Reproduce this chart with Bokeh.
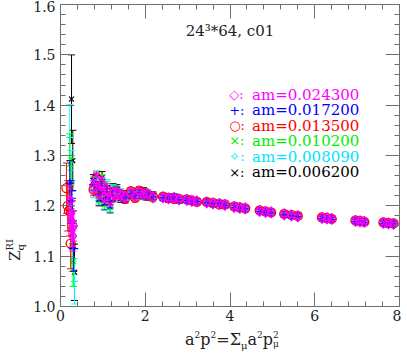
from bokeh.plotting import figure
from bokeh.models import (LinearAxis, SingleIntervalTicker, Range1d, Label,
                          ColumnDataSource, Div, CustomJSTickFormatter)
from bokeh.layouts import row, column
from bokeh.embed import file_html
from bokeh.resources import INLINE

# ---------------- data ----------------
x_dense = [0.78, 0.85, 0.91, 0.98, 1.04, 1.10, 1.17, 1.24,
           1.33, 1.42, 1.52,
           1.66, 1.76, 1.86, 1.96, 2.06, 2.18,
           2.42, 2.55, 2.68, 2.80,
           2.98, 3.10, 3.22,
           3.45, 3.60, 3.75, 3.88,
           4.10, 4.23, 4.36,
           4.70, 4.84, 4.97,
           5.28, 5.45, 5.60,
           6.17, 6.29, 6.40,
           6.96, 7.07, 7.17,
           7.62, 7.74, 7.86]
err_dense = [0.012, 0.012, 0.012, 0.012, 0.012, 0.012, 0.012, 0.012,
             0.008, 0.008, 0.008,
             0.006, 0.006, 0.006, 0.006, 0.006, 0.006,
             0.005, 0.005, 0.005, 0.005,
             0.004, 0.004, 0.004,
             0.004, 0.004, 0.004, 0.004,
             0.004, 0.004, 0.004,
             0.004, 0.004, 0.004,
             0.004, 0.004, 0.004,
             0.004, 0.004, 0.004,
             0.004, 0.004, 0.004,
             0.004, 0.004, 0.004]

labels = ["am=0.024300", "am=0.017200", "am=0.013500",
          "am=0.010200", "am=0.008090", "am=0.006200"]
symbols = ["\u25c7:", "+:", "\u25cb:", "\u00d7:", "\u2727:", "\u00d7:"]

# am = 0.024300 (magenta)
m_low_x = [0.23, 0.25, 0.26, 0.28, 0.29, 0.31]
m_low_y = [1.210, 1.185, 1.170, 1.155, 1.140, 1.160]
m_low_e = [0.030, 0.030, 0.030, 0.035, 0.030, 0.030]
m_y = [1.238, 1.252, 1.226, 1.245, 1.218, 1.232, 1.212, 1.225,
       1.226, 1.221, 1.218,
       1.226, 1.219, 1.228, 1.222, 1.224, 1.217,
       1.217, 1.215, 1.216, 1.213,
       1.212, 1.210, 1.209,
       1.207, 1.205, 1.204, 1.202,
       1.198, 1.196, 1.195,
       1.190, 1.188, 1.187,
       1.183, 1.181, 1.179,
       1.176, 1.175, 1.174,
       1.170, 1.169, 1.168,
       1.166, 1.165, 1.164]
# am = 0.017200 (blue)
b_low_x = [0.22, 0.25, 0.27, 0.28, 0.31]
b_low_y = [1.245, 1.210, 1.190, 1.165, 1.115]
b_low_e = [0.045, 0.040, 0.040, 0.050, 0.045]
b_y = [1.242, 1.248, 1.222, 1.240, 1.214, 1.228, 1.208, 1.222,
       1.229, 1.219, 1.216,
       1.224, 1.221, 1.226, 1.220, 1.222, 1.218,
       1.216, 1.214, 1.217, 1.212,
       1.211, 1.209, 1.208,
       1.206, 1.204, 1.205, 1.201,
       1.197, 1.196, 1.194,
       1.189, 1.187, 1.186,
       1.182, 1.180, 1.179,
       1.175, 1.174, 1.173,
       1.169, 1.168, 1.167,
       1.165, 1.164, 1.164]
# am = 0.013500 (red)
r_low_x = [0.14, 0.17, 0.20, 0.24]
r_low_y = [1.235, 1.200, 1.190, 1.125]
r_low_e = [0.050, 0.050, 0.050, 0.050]
r_y = [1.232, 1.255, 1.230, 1.236, 1.222, 1.226, 1.215, 1.220,
       1.224, 1.223, 1.214,
       1.229, 1.216, 1.230, 1.225, 1.220, 1.219,
       1.218, 1.216, 1.214, 1.214,
       1.213, 1.211, 1.208,
       1.208, 1.206, 1.203, 1.203,
       1.199, 1.197, 1.195,
       1.191, 1.189, 1.187,
       1.184, 1.182, 1.180,
       1.177, 1.176, 1.174,
       1.171, 1.170, 1.168,
       1.167, 1.166, 1.165]
# am = 0.010200 (green)
g_low_x = [0.22, 0.25, 0.27, 0.30]
g_low_y = [1.283, 1.245, 1.120, 1.090]
g_low_e = [0.060, 0.050, 0.050, 0.050]
g_y = [1.245, 1.240, 1.218, 1.250, 1.210, 1.236, 1.205, 1.228,
       1.231, 1.217, 1.220,
       1.222, 1.223, 1.232, 1.218, 1.226, 1.214,
       1.219, 1.213, 1.218, 1.211,
       1.214, 1.208, 1.210,
       1.209, 1.203, 1.206, 1.200,
       1.199, 1.195, 1.196,
       1.191, 1.187, 1.188,
       1.184, 1.180, 1.181,
       1.177, 1.173, 1.175,
       1.171, 1.167, 1.169,
       1.167, 1.163, 1.165]
# am = 0.008090 (cyan)
c_low_x = [0.22, 0.25, 0.30, 0.33]
c_low_y = [1.336, 1.250, 1.090, 1.050]
c_low_e = [0.065, 0.060, 0.050, 0.045]
c_y = [1.228, 1.258, 1.215, 1.242, 1.206, 1.240, 1.200, 1.230,
       1.222, 1.226, 1.213,
       1.230, 1.214, 1.224, 1.227, 1.219, 1.221,
       1.214, 1.217, 1.213, 1.215,
       1.210, 1.212, 1.207,
       1.205, 1.207, 1.202, 1.204,
       1.196, 1.198, 1.194,
       1.188, 1.190, 1.186,
       1.181, 1.183, 1.178,
       1.174, 1.177, 1.173,
       1.168, 1.171, 1.167,
       1.164, 1.167, 1.163]
# am = 0.006200 (black)
k_low_x = [0.26, 0.29, 0.31, 0.33]
k_low_y = [1.412, 1.290, 1.120, 1.068]
k_low_e = [0.088, 0.060, 0.050, 0.056]
k_y = [1.250, 1.244, 1.212, 1.256, 1.204, 1.220, 1.198, 1.232,
       1.234, 1.215, 1.222,
       1.220, 1.225, 1.221, 1.230, 1.217, 1.222,
       1.220, 1.212, 1.219, 1.210,
       1.215, 1.207, 1.211,
       1.210, 1.202, 1.207, 1.199,
       1.200, 1.194, 1.197,
       1.192, 1.186, 1.189,
       1.185, 1.179, 1.182,
       1.178, 1.172, 1.176,
       1.172, 1.166, 1.170,
       1.168, 1.162, 1.166]

# ---------------- figure ----------------
FONT = "DejaVu Serif"
AX = "#6e6e6e"
TXT = "#222222"

p = figure(width=371, height=326, output_backend="svg", toolbar_location=None,
           x_range=Range1d(0, 8), y_range=Range1d(1.0, 1.6),
           min_border_left=28, min_border_right=2, min_border_top=4, min_border_bottom=20,
           x_axis_location=None, y_axis_location=None)
p.grid.visible = False
p.outline_line_color = AX
p.background_fill_color = "white"

def style_axis(ax, labels_on):
    ax.axis_line_color = AX
    ax.major_tick_line_color = AX
    ax.minor_tick_line_color = AX
    ax.major_tick_in = 14
    ax.major_tick_out = 0
    ax.minor_tick_in = 5
    ax.minor_tick_out = 0
    ax.major_label_text_font = FONT
    ax.major_label_text_font_size = "14px"
    ax.major_label_text_color = TXT
    ax.major_label_standoff = 3 if labels_on else 0
    if not labels_on:
        ax.formatter = CustomJSTickFormatter(code="return '';")

xb = LinearAxis(ticker=SingleIntervalTicker(interval=2, num_minor_ticks=5))
xt = LinearAxis(ticker=SingleIntervalTicker(interval=2, num_minor_ticks=5))
yl = LinearAxis(ticker=SingleIntervalTicker(interval=0.1, num_minor_ticks=5))
yr = LinearAxis(ticker=SingleIntervalTicker(interval=0.1, num_minor_ticks=5))
yl.formatter = CustomJSTickFormatter(code="return tick.toFixed(1);")
style_axis(xb, True); style_axis(yl, True)
style_axis(xt, False); style_axis(yr, False)
yl.major_label_standoff = 5
p.add_layout(xb, "below")
p.add_layout(yl, "left")
p.add_layout(xt, "above")
p.add_layout(yr, "right")

series = [
    (k_low_x, k_low_y, k_low_e, k_y, "black", "x", 7),
    (c_low_x, c_low_y, c_low_e, c_y, "#00ffff", "cross", 7),
    (g_low_x, g_low_y, g_low_e, g_y, "#00ff00", "x", 8),
    (r_low_x, r_low_y, r_low_e, r_y, "#ff0000", "circle", 9),
    (b_low_x, b_low_y, b_low_e, b_y, "#0000ff", "cross", 9),
    (m_low_x, m_low_y, m_low_e, m_y, "#ff00ff", "diamond", 11),
]

for lx, ly, le, dy, col, mk, sz in series:
    xs = lx + x_dense
    ys = ly + dy
    es = le + err_dense
    src = ColumnDataSource(dict(x=xs, y=ys,
                                lo=[a - b for a, b in zip(ys, es)],
                                hi=[a + b for a, b in zip(ys, es)]))
    p.segment(x0="x", y0="lo", x1="x", y1="hi", source=src, line_color=col, line_width=1)
    p.scatter(x="x", y="lo", source=src, marker="dash", size=7, line_color=col, line_width=1)
    p.scatter(x="x", y="hi", source=src, marker="dash", size=7, line_color=col, line_width=1)
    if mk in ("diamond", "circle"):
        p.scatter(x="x", y="y", source=src, marker=mk, size=sz, fill_color=None,
                  line_color=col, line_width=1.3)
    else:
        p.scatter(x="x", y="y", source=src, marker=mk, size=sz,
                  line_color=col, line_width=1.2)

# title
p.add_layout(Label(x=4.0, y=1.548, text="24\u00b3*64, c01", text_font=FONT,
                   text_font_size="15px", text_align="center", text_baseline="middle",
                   text_color=TXT))

# legend (text)
leg_cols = ["#ff00ff", "#0000ff", "#ff0000", "#00ee00", "#00e5ff", "black"]
leg_y = [1.421, 1.390, 1.359, 1.329, 1.298, 1.267]
for s, t, c, yy in zip(symbols, labels, leg_cols, leg_y):
    p.add_layout(Label(x=3.98, y=yy, text=s, text_font=FONT, text_font_size="13px",
                       text_align="left", text_baseline="middle", text_color=c))
    p.add_layout(Label(x=4.52, y=yy, text=t, text_font=FONT, text_font_size="15px",
                       text_align="left", text_baseline="middle", text_color=c))

# axis titles as HTML text (outside the plot frame)
ylab = Div(width=20, height=326, text=(
    '<div style="position:relative;width:20px;height:326px;">'
    '<div style="position:absolute;left:0px;top:256px;transform:rotate(-90deg);'
    'transform-origin:left top;white-space:nowrap;font-family:\'DejaVu Serif\';'
    'font-size:15px;color:#222;line-height:1;">'
    'Z<span style="display:inline-block;vertical-align:middle;font-size:10px;line-height:1.05;">'
    '<span style="display:block;">RI</span><span style="display:block;">q</span></span>'
    '</div></div>'))
xlab = Div(width=371, height=18, text=(
    '<div style="position:relative;width:371px;height:18px;">'
    '<div style="position:absolute;left:150px;top:0px;white-space:nowrap;'
    'font-family:\'DejaVu Serif\';font-size:16px;color:#222;line-height:1;">'
    'a<sup style="font-size:9px;">2</sup>p<sup style="font-size:9px;">2</sup>=&Sigma;'
    '<sub style="font-size:10px;">&mu;</sub>'
    'a<sup style="font-size:9px;">2</sup>p'
    '<span style="display:inline-block;vertical-align:middle;font-size:9px;line-height:1;">'
    '<span style="display:block;">2</span><span style="display:block;">&mu;</span></span>'
    '</div></div>'))

layout = row(ylab, column(p, xlab, spacing=0), spacing=0)

open("out.html", "w").write(file_html(layout, INLINE))
